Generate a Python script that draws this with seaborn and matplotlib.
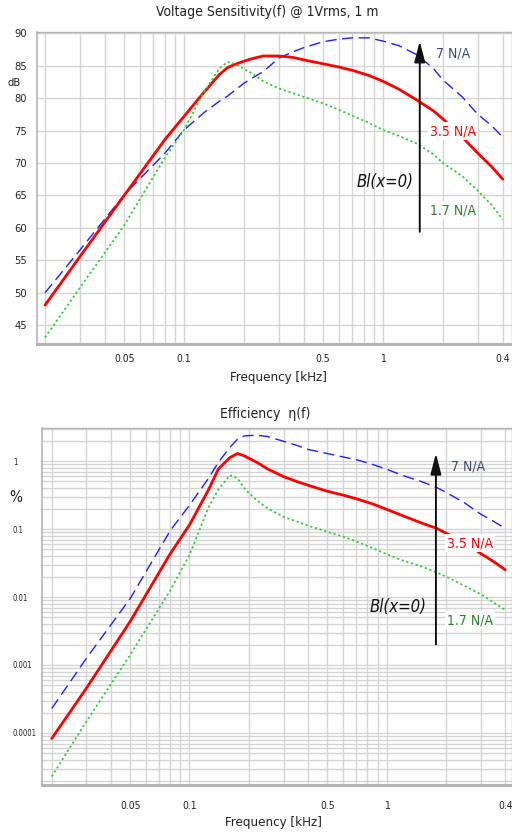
import matplotlib
matplotlib.use("Agg")
import matplotlib.pyplot as plt
import matplotlib.ticker as mticker
from matplotlib import font_manager as fm
import seaborn as sns

# ---------------- data ----------------
# Voltage sensitivity (dB) vs frequency (kHz)
freq_spl = [0.02, 0.03, 0.05, 0.08, 0.1, 0.125, 0.15, 0.165, 0.18, 0.2, 0.22, 0.25, 0.3, 0.35, 0.4, 0.5,
            0.6, 0.7, 0.85, 1.0, 1.2, 1.5, 1.8, 2.0, 2.5, 3.0, 3.5, 4.0]
spl_7 = [50.0, 56.6, 65.1, 71.5, 75.1, 77.7, 79.5, 80.3, 81.2, 82.3, 83.1, 84.1, 86.2, 87.1, 87.8, 88.7,
         89.1, 89.3, 89.3, 88.8, 88.1, 86.6, 84.5, 82.8, 80.2, 77.5, 75.8, 74.0]
spl_35 = [48.1, 55.6, 65.0, 73.6, 77.2, 80.8, 83.6, 84.7, 85.2, 85.7, 86.1, 86.5, 86.5, 86.3, 85.9, 85.3,
          84.8, 84.3, 83.5, 82.6, 81.4, 79.6, 78.0, 76.8, 74.0, 71.5, 69.5, 67.5]
spl_17 = [43.1, 50.8, 60.4, 70.8, 75.1, 80.8, 84.5, 85.6, 85.3, 84.5, 83.8, 82.6, 81.5, 80.8, 80.2, 79.2,
          78.2, 77.3, 76.2, 75.1, 74.2, 72.9, 71.3, 70.0, 68.0, 65.7, 63.6, 61.3]

# Efficiency (%) vs frequency (kHz)
freq_eff = [0.02, 0.03, 0.05, 0.08, 0.1, 0.125, 0.14, 0.16, 0.175, 0.19, 0.2, 0.22, 0.25, 0.3, 0.35, 0.4,
            0.5, 0.6, 0.7, 0.85, 1.0, 1.2, 1.5, 1.8, 2.0, 2.5, 3.0, 3.5, 4.0]
eff_7 = [2.29e-4, 1.26e-3, 9.5e-3, 0.0955, 0.224, 0.56, 0.955, 1.58, 2.09, 2.34, 2.37, 2.40, 2.29, 1.95,
         1.70, 1.48, 1.29, 1.15, 1.05, 0.89, 0.76, 0.617, 0.50, 0.407, 0.347, 0.24, 0.166, 0.129, 0.102]
eff_35 = [8.3e-5, 4.57e-4, 4.37e-3, 0.0437, 0.115, 0.38, 0.76, 1.12, 1.29, 1.19, 1.10, 0.955, 0.76, 0.59,
          0.50, 0.44, 0.36, 0.316, 0.28, 0.234, 0.195, 0.158, 0.123, 0.102, 0.087, 0.063, 0.0437, 0.033, 0.0251]
eff_17 = [2.29e-5, 1.48e-4, 1.41e-3, 0.0126, 0.0417, 0.209, 0.38, 0.617, 0.56, 0.398, 0.339, 0.263, 0.20,
          0.151, 0.129, 0.112, 0.0912, 0.0776, 0.066, 0.0525, 0.0427, 0.0347, 0.0282, 0.0229, 0.020,
          0.0145, 0.011, 0.0083, 0.00646]

series_labels = ["7 N/A", "3.5 N/A", "1.7 N/A"]
x_tick_vals = [0.05, 0.1, 0.5, 1, 4]
x_tick_labels = ["0.05", "0.1", "0.5", "1", "0.4"]
spl_ticks = [45, 50, 55, 60, 65, 70, 75, 80, 85, 90]
eff_ticks = [1e-4, 1e-3, 1e-2, 1e-1, 1]
eff_tick_labels = ["0.0001", "0.001", "0.01", "0.1", "1"]

# ---------------- style ----------------
sns.set_style("white")
entries = {(f.name, str(f.stretch)) for f in fm.fontManager.ttflist}
names = {n for n, s in entries}
if "Liberation Sans Narrow" in names:
    FONT = ["Liberation Sans Narrow", "DejaVu Sans"]
    STRETCH = "normal"
elif any(n == "DejaVu Sans" and s in ("condensed", "semi-condensed") for n, s in entries):
    FONT = ["DejaVu Sans"]
    STRETCH = "condensed"
else:
    FONT = ["Liberation Sans", "DejaVu Sans"]
    STRETCH = "normal"
plt.rcParams["font.family"] = FONT
plt.rcParams["font.stretch"] = STRETCH

GRID = "#d4d4d4"
SPINE = "#b4b4b4"
C_BLUE = "#1f1fff"
C_RED = "#ff0000"
C_GREEN = "#33cc33"
styles = [
    dict(color=C_BLUE, lw=1.0, linestyle=(0, (8, 4))),
    dict(color=C_RED, lw=2.0, linestyle="-"),
    dict(color=C_GREEN, lw=1.3, linestyle=(0, (1.2, 1.5))),
]

fig = plt.figure(figsize=(5.12, 8.34), dpi=100)
ax1 = fig.add_axes([0.072, 0.5875, 0.928, 0.3745])
ax2 = fig.add_axes([0.083, 0.0588, 0.917, 0.428])


def style_axes(ax):
    ax.set_xscale("log")
    for s in ax.spines.values():
        s.set_color(SPINE)
        s.set_linewidth(1.0)
    ax.spines["bottom"].set_linewidth(2.2)
    ax.spines["left"].set_linewidth(1.2)
    ax.xaxis.set_major_locator(mticker.FixedLocator(x_tick_vals))
    ax.xaxis.set_major_formatter(mticker.FixedFormatter(x_tick_labels))
    ax.xaxis.set_minor_locator(mticker.LogLocator(base=10, subs=range(1, 10), numticks=20))
    ax.xaxis.set_minor_formatter(mticker.NullFormatter())
    ax.grid(True, axis="x", which="both", color=GRID, lw=1.0)
    ax.tick_params(axis="x", which="minor", length=0)
    ax.set_axisbelow(True)


# ---------------- top: SPL ----------------
style_axes(ax1)
for vals, st in zip([spl_7, spl_35, spl_17], styles):
    sns.lineplot(x=freq_spl, y=vals, ax=ax1, **st)
ax1.set_xlim(0.0182, 4.45)
ax1.set_ylim(42.1, 90.25)
ax1.set_yticks(spl_ticks)
ax1.yaxis.set_minor_locator(mticker.MultipleLocator(1))
ax1.grid(True, axis="y", which="major", color=GRID, lw=1.0)
ax1.tick_params(axis="y", which="major", direction="out", length=5.3, width=1, color=SPINE,
                pad=2, labelsize=8, labelcolor="#222222")
ax1.tick_params(axis="y", which="minor", direction="in", length=5, width=0.9, color="#d8d8d8")
ax1.tick_params(axis="x", which="major", direction="out", length=3, width=1, color=SPINE,
                pad=4, labelsize=7.5, labelcolor="#222222")
for t in ax1.xaxis.get_major_ticks():
    if t.get_loc() not in (0.1, 1):
        t.tick1line.set_visible(False)
ax1.set_xlabel("")
ax1.set_ylabel("")

# annotations top
ax1.annotate("", xy=(1.53, 88.8), xytext=(1.53, 59.4),
             arrowprops=dict(arrowstyle="-|>,head_length=0.7,head_width=0.18",
                             color="#111111", lw=1.4, mutation_scale=18, shrinkA=0, shrinkB=0))
ax1.text(2.25, 86.9, series_labels[0], color="#3b4a6b", fontsize=10, ha="center", va="center")
ax1.text(2.25, 74.9, series_labels[1], color=C_RED, fontsize=10, ha="center", va="center",
         bbox=dict(facecolor="white", edgecolor="none", pad=1.5))
ax1.text(2.25, 62.7, series_labels[2], color="#2e7d2e", fontsize=10, ha="center", va="center",
         bbox=dict(facecolor="white", edgecolor="none", pad=1.5))
ax1.text(1.03, 67.1, "Bl(x=0)", color="#111111", fontsize=12, style="italic",
         ha="center", va="center")

fig.text(0.521, 0.9856, "Voltage Sensitivity(f) @ 1Vrms, 1 m", ha="center", va="center",
         fontsize=10, color="#222222")
fig.text(0.543, 0.5468, "Frequency [kHz]", ha="center", va="center", fontsize=9.5, color="#222222")
fig.text(0.027, 0.9005, "dB", ha="center", va="center", fontsize=8, color="#222222")

# ---------------- bottom: efficiency ----------------
style_axes(ax2)
for vals, st in zip([eff_7, eff_35, eff_17], styles):
    sns.lineplot(x=freq_eff, y=vals, ax=ax2, **st)
ax2.set_yscale("log")
ax2.set_xlim(0.01795, 4.33)
ax2.set_ylim(1.72e-5, 3.06)
ax2.yaxis.set_major_locator(mticker.FixedLocator(eff_ticks))
ax2.yaxis.set_major_formatter(mticker.FixedFormatter(eff_tick_labels))
ax2.yaxis.set_minor_locator(mticker.LogLocator(base=10, subs=range(2, 10), numticks=20))
ax2.yaxis.set_minor_formatter(mticker.NullFormatter())
ax2.grid(True, axis="y", which="both", color=GRID, lw=1.0)
ax2.tick_params(axis="y", which="major", direction="out", length=4, width=1, color=SPINE,
                pad=17.4, labelsize=5.5, labelcolor="#222222")
ax2.tick_params(axis="y", which="minor", length=0)
plt.setp(ax2.get_yticklabels(), ha="left")
ax2.tick_params(axis="x", which="major", direction="out", length=3.6, width=1, color=SPINE,
                pad=8, labelsize=7.5, labelcolor="#222222")
for t in ax2.xaxis.get_major_ticks():
    if t.get_loc() not in (0.1, 1):
        t.tick1line.set_visible(False)
ax2.set_xlabel("")
ax2.set_ylabel("")

ax2.annotate("", xy=(1.78, 1.30), xytext=(1.78, 0.00201),
             arrowprops=dict(arrowstyle="-|>,head_length=0.7,head_width=0.18",
                             color="#111111", lw=1.4, mutation_scale=18, shrinkA=0, shrinkB=0))
ax2.text(2.6, 0.82, series_labels[0], color="#3b4a6b", fontsize=10, ha="center", va="center")
ax2.text(2.65, 0.0617, series_labels[1], color=C_RED, fontsize=10, ha="center", va="center",
         bbox=dict(facecolor="white", edgecolor="none", pad=1.5))
ax2.text(2.65, 0.00457, series_labels[2], color="#2e7d2e", fontsize=10, ha="center", va="center",
         bbox=dict(facecolor="white", edgecolor="none", pad=1.5))
ax2.text(1.15, 0.00724, "Bl(x=0)", color="#111111", fontsize=12, style="italic",
         ha="center", va="center")

fig.text(0.518, 0.5036, "Efficiency  \u03b7(f)", ha="center", va="center", fontsize=10, color="#222222")
fig.text(0.535, 0.0132, "Frequency [kHz]", ha="center", va="center", fontsize=9.5, color="#222222")
fig.text(0.03, 0.404, "%", ha="center", va="center", fontsize=11, color="#222222")

fig.savefig("out.png", dpi=100)
